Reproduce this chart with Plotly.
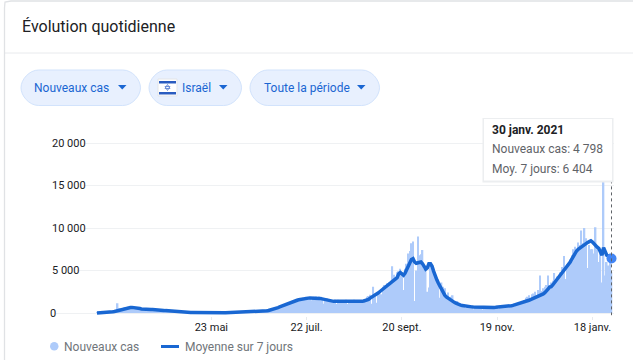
import pandas as pd
import plotly.graph_objects as go

START_DATE = "2020-03-12"
new_cases = [
    10,15,20,30,40,60,70,100,120,150,
    200,250,350,1150,550,450,500,650,700,600,
    620,650,700,750,650,600,550,500,480,450,
    420,400,420,380,350,400,360,380,340,300,
    300,280,260,250,220,200,190,170,160,140,
    120,110,100,90,80,70,60,60,50,50,
    40,40,30,30,25,25,20,20,20,20,
    20,20,15,15,20,20,20,25,25,30,
    30,30,25,30,40,50,60,60,70,80,
    90,100,100,120,130,130,140,150,150,160,
    160,170,170,180,200,220,240,260,300,330,
    400,460,520,600,700,780,850,950,1000,1080,
    1100,1200,1280,1400,1350,1500,1550,1600,1450,1700,
    1800,1650,1900,1800,1850,1500,1700,1900,1950,1700,
    1950,1900,1800,1100,1750,1700,1600,1350,1400,1500,
    1550,1050,1550,1450,1500,1400,1500,1550,1050,1500,
    1500,1400,1550,1300,1400,1250,1400,1500,1650,1400,
    1900,2000,2150,1100,3100,1950,1200,2200,2400,2200,
    3100,3300,3300,3500,3600,3800,5500,4500,4300,4800,
    4900,5200,4800,2700,5200,5800,7000,7300,8200,8400,
    1400,5000,9000,6800,6900,7400,5200,5600,2500,3000,
    6000,5500,5000,4800,3700,3800,1800,3600,3100,2900,
    2000,2400,1500,1900,2100,1200,1400,1400,1100,1000,
    1100,1000,600,900,950,900,800,450,800,750,
    750,700,650,400,700,700,750,650,700,700,
    600,700,750,500,800,750,800,750,850,900,
    1000,950,1100,800,1100,1200,1300,1100,1400,1500,
    1800,1900,2100,1500,2200,2300,2500,1800,2700,4400,
    2600,2900,3100,3300,4400,3300,3600,3800,4700,3800,
    4300,4500,4800,5400,6700,4000,5700,5600,6300,6800,
    7500,7800,7000,8300,8000,9700,8200,10000,8800,5300,
    8000,7500,7500,7000,10100,7500,6000,7000,3600,19000,
    4400,6000,5600,7000,4798,
]
avg_7d = [
    10,15,20,25,30,40,50,60,80,110,
    140,180,230,300,360,420,480,530,570,600,
    630,650,660,650,630,600,560,520,480,450,
    430,420,410,400,400,400,400,390,380,360,
    340,320,300,280,260,240,220,200,180,160,
    140,130,120,110,100,90,80,70,60,55,
    50,45,40,35,30,30,25,25,25,25,
    20,20,20,20,20,25,25,30,30,30,
    35,35,40,45,50,55,60,70,80,90,
    100,110,120,125,130,135,140,145,150,155,
    160,165,170,180,190,210,230,260,300,340,
    390,440,500,570,640,710,790,870,950,1030,
    1100,1180,1260,1330,1400,1450,1500,1550,1600,1640,
    1680,1700,1730,1750,1760,1770,1770,1770,1760,1740,
    1720,1690,1640,1590,1530,1480,1440,1400,1380,1370,
    1370,1380,1400,1410,1420,1420,1410,1400,1390,1380,
    1370,1360,1350,1350,1350,1360,1370,1390,1410,1440,
    1490,1600,1750,1850,1950,2050,2200,2350,2500,2650,
    2800,2950,3100,3250,3400,3550,3700,3850,4000,4150,
    4600,4750,4600,4450,4700,5100,5500,5900,6300,6400,
    6000,5850,5900,6050,6000,5800,5400,5150,5300,5800,
    5800,5500,4900,4300,3900,3500,3100,2750,2400,2100,
    1900,1750,1600,1450,1350,1250,1150,1050,980,920,
    870,830,790,770,750,730,720,710,700,690,
    680,670,660,650,640,640,630,640,650,650,
    660,670,680,700,720,730,740,750,770,790,
    820,860,900,950,1000,1050,1100,1150,1200,1280,
    1350,1420,1500,1580,1650,1720,1800,1880,1950,2030,
    2100,2250,2400,2550,2800,3050,3100,3300,3550,3800,
    4000,4200,4450,4700,4950,5250,5400,5700,6000,6350,
    6700,7150,7300,7500,7650,7800,7950,8050,8150,8300,
    8400,8500,8350,8100,7950,7750,7600,7200,6800,7700,
    7200,6800,6700,6500,6404,
]
tick_dates = ["2020-05-23", "2020-07-22", "2020-09-20", "2020-11-19", "2021-01-18"]
tick_labels = ["23 mai", "22 juil.", "20 sept.", "19 nov.", "18 janv."]
y_ticks = [0, 5000, 10000, 15000, 20000]
y_labels = ["0", "5\u00a0000", "10\u00a0000", "15\u00a0000", "20\u00a0000"]
chips = ["Nouveaux cas", "Israël", "Toute la période"]
tip_lines = ["<b>30 janv. 2021</b>", "Nouveaux cas: 4\u00a0798", "Moy. 7 jours: 6\u00a0404"]
legend_names = ["Nouveaux cas", "Moyenne sur 7 jours"]

W, H = 633, 360
FONT = "Roboto"
dates = pd.date_range(START_DATE, periods=len(new_cases), freq="D")
PX_PER_DAY = 1.588


def fx(p):
    return p / W


def fy(p):
    return 1 - p / H


def date_at(px):
    return pd.Timestamp(START_DATE) + pd.Timedelta(days=(px - 97) / PX_PER_DAY)


def rect(x0, y0, x1, y1, fill, line=None, lw=1):
    return dict(type="rect", xref="paper", yref="paper", x0=fx(x0), x1=fx(x1), y0=fy(y0), y1=fy(y1),
                fillcolor=fill, line=dict(color=line or fill, width=lw if line else 0), layer="above")


def path(points, fill, line=None, lw=1, close=True):
    d = "M" + " L".join(f"{fx(a):.5f},{fy(b):.5f}" for a, b in points) + (" Z" if close else "")
    return dict(type="path", xref="paper", yref="paper", path=d, fillcolor=fill,
                line=dict(color=line or fill, width=lw if line else 0), layer="above")


def pill(x0, x1, y0, y1):
    r = (y1 - y0) / 2
    d = (f"M{fx(x0+r):.5f},{fy(y0):.5f} L{fx(x1-r):.5f},{fy(y0):.5f} "
         f"C{fx(x1-r*0.45):.5f},{fy(y0):.5f} {fx(x1):.5f},{fy(y0+r*0.55):.5f} {fx(x1):.5f},{fy(y0+r):.5f} "
         f"C{fx(x1):.5f},{fy(y1-r*0.55):.5f} {fx(x1-r*0.45):.5f},{fy(y1):.5f} {fx(x1-r):.5f},{fy(y1):.5f} "
         f"L{fx(x0+r):.5f},{fy(y1):.5f} "
         f"C{fx(x0+r*0.45):.5f},{fy(y1):.5f} {fx(x0):.5f},{fy(y1-r*0.55):.5f} {fx(x0):.5f},{fy(y0+r):.5f} "
         f"C{fx(x0):.5f},{fy(y0+r*0.55):.5f} {fx(x0+r*0.45):.5f},{fy(y0):.5f} {fx(x0+r):.5f},{fy(y0):.5f} Z")
    return dict(type="path", xref="paper", yref="paper", path=d, fillcolor="#e8f0fe",
                line=dict(color="#d2e3fc", width=1), layer="below")


def text(x, y, s, size=12, color="#202124", anchor="left"):
    return dict(xref="paper", yref="paper", x=fx(x), y=fy(y), text=s, showarrow=False, xanchor=anchor,
                yanchor="middle", font=dict(family=FONT, size=size, color=color), borderpad=0, borderwidth=0)


fig = go.Figure()
fig.add_bar(x=dates, y=new_cases, name=legend_names[0], marker=dict(color="#aecbfa", line=dict(width=0)))
fig.add_scatter(x=dates, y=avg_7d, mode="lines", name=legend_names[1],
                line=dict(color="#1967d2", width=3.5))
fig.add_scatter(x=[dates[-1]], y=[avg_7d[-1]], mode="markers", name="Moy.",
                marker=dict(color="#4285f4", size=10), cliponaxis=False)

shapes = [
    path([(633, 1), (11, 1), (5, 2), (4.5, 8), (4.5, 360)], "rgba(0,0,0,0)", "#e0e2e5", 1.3, close=False),
    dict(type="line", xref="paper", yref="paper", x0=fx(5), x1=1, y0=fy(53), y1=fy(53),
         line=dict(color="#e8eaed", width=1), layer="below"),
    pill(21, 140.5, 70, 105.5), pill(149, 241.5, 70, 105.5), pill(250, 379.5, 70, 105.5),
]
for a in (118, 219, 357):
    shapes.append(path([(a, 85), (a + 8.5, 85), (a + 4.25, 89.5)], "#1a66d2"))
# flag
shapes += [
    rect(158, 79, 177, 96, "#ffffff", "#e3e5e8", 1),
    rect(159, 81, 176, 83.5, "#2a5cc0"),
    rect(159, 92, 176, 94.5, "#2a5cc0"),
    path([(167.5, 84.5), (170, 88.5), (165, 88.5)], "rgba(0,0,0,0)", "#6f90d8", 1),
    path([(167.5, 90.5), (170, 86.5), (165, 86.5)], "rgba(0,0,0,0)", "#6f90d8", 1),
]
# white masks behind y tick labels (gridlines start right after each label)
for val, right in zip(y_ticks, (56, 77, 84, 84, 84)):
    shapes.append(dict(type="rect", xref="x", yref="y", x0=date_at(49), x1=date_at(right),
                       y0=val - 200, y1=val + 200, fillcolor="white", line=dict(width=0), layer="between"))
# legend
shapes += [
    dict(type="circle", xref="paper", yref="paper", x0=fx(50), x1=fx(58.5), y0=fy(342), y1=fy(350.5),
         fillcolor="#aecbfa", line=dict(width=0), layer="above"),
    dict(type="line", xref="paper", yref="paper", x0=fx(161), x1=fx(179), y0=fy(346.5), y1=fy(346.5),
         line=dict(color="#1967d2", width=3), layer="above"),
]
# hover cursor and tooltip
shapes += [
    dict(type="line", xref="x", yref="y", x0=dates[-1], x1=dates[-1], y0=-2400, y1=15500,
         line=dict(color="#5f6368", width=1, dash="dot"), layer="above"),
    rect(482.5, 118, 613.5, 182.5, "#eceef0"),
    rect(484, 119, 612, 180.5, "#ffffff"),
]

annotations = [
    text(21.5, 27, "Évolution quotidienne", 16, "#202124"),
    text(34, 87.5, chips[0], 12, "#1a66d2"),
    text(182, 87.5, chips[1], 12, "#1a66d2"),
    text(264, 87.5, chips[2], 12, "#1a66d2"),
    text(492, 130, tip_lines[0], 12, "#202124"),
    text(492, 149, tip_lines[1], 12, "#5f6368"),
    text(492, 169, tip_lines[2], 12, "#5f6368"),
    text(64, 346.5, legend_names[0], 12, "#70757a"),
    text(185, 346.5, legend_names[1], 12, "#70757a"),
    # the axis drops its lowest inside label at the plot edge
    text(49.5, 313, y_labels[0], 11, "#202124"),
]

plot_left, plot_right = 49, 614
y_top_px, y_bottom_px = 109, 315.55
fig.update_layout(
    width=W, height=H, autosize=False,
    margin=dict(l=0, r=0, t=0, b=0),
    paper_bgcolor="white", plot_bgcolor="white",
    font=dict(family=FONT, size=11, color="#202124"),
    bargap=0.05,
    showlegend=False,
    shapes=shapes, annotations=annotations,
    xaxis=dict(domain=[fx(plot_left), fx(plot_right)], type="date",
               range=[date_at(plot_left), date_at(plot_right)], tickvals=tick_dates, ticktext=tick_labels,
               showgrid=False, ticks="outside", ticklen=3, tickcolor="#e8eaed", showline=False, zeroline=False,
               ticklabelstandoff=-2, tickfont=dict(family=FONT, size=11, color="#202124")),
    yaxis=dict(domain=[fy(y_bottom_px), fy(y_top_px)], range=[-300, 24000], tickvals=y_ticks, ticktext=y_labels,
               showgrid=True, gridcolor="#eff1f3", gridwidth=1, zeroline=False, showline=False,
               ticks="", ticklabelposition="inside", tickfont=dict(family=FONT, size=11, color="#202124")),
    hovermode=False,
)
fig.write_html("out.html", config=dict(displayModeBar=False),
               post_script="document.body.style.margin='0';")
